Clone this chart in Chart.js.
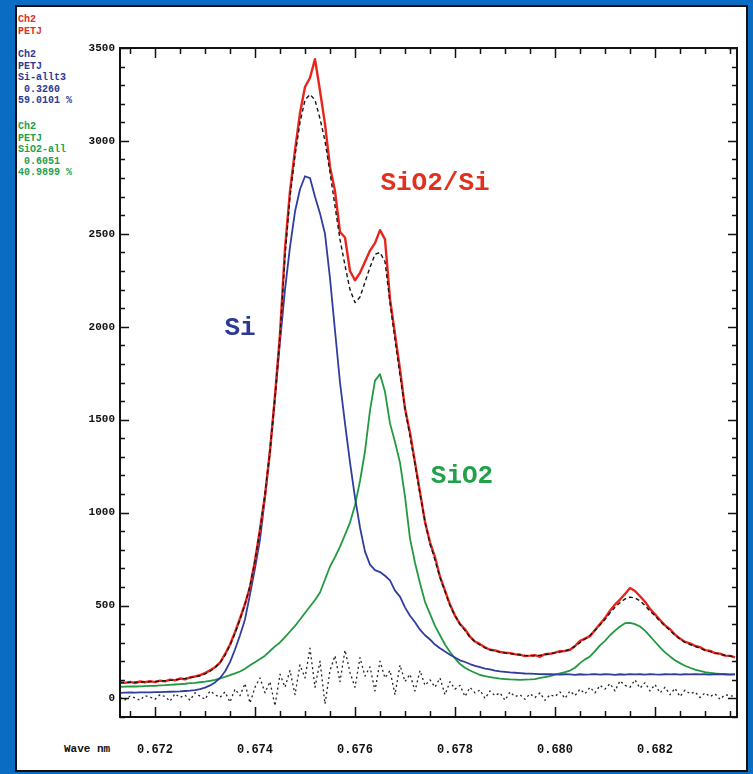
<!DOCTYPE html>
<html>
<head>
<meta charset="utf-8">
<title>SiO2/Si peak fit</title>
<script src="https://cdn.jsdelivr.net/npm/chart.js@4.4.1/dist/chart.umd.min.js"></script>
<style>
  html, body { margin: 0; padding: 0; }
  body { width: 753px; height: 774px; background: #0b6cc4; position: relative; overflow: hidden; }
  #panel { position: absolute; left: 15px; top: 5px; width: 733px; height: 767px; box-sizing: border-box; border: 2px solid #111; background: #fff; }
  #spectrum { position: absolute; left: 0; top: 0; }
  .tag { position: absolute; left: 18px; font: bold 10px "Liberation Mono", monospace; line-height: 11.5px; white-space: pre; }
  .red { color: #e0301e; top: 14px; }
  .blue { color: #2c3a96; top: 49px; }
  .green { color: #23a04a; top: 121px; }
  #waveLabel { position: absolute; left: 64px; top: 743px; font: bold 11px "Liberation Mono", monospace; color: #111; white-space: pre; }
</style>
</head>
<body>
<div id="panel"></div>
<div class="tag red">Ch2
PETJ</div>
<div class="tag blue">Ch2
PETJ
Si-allt3
 0.3260
59.0101 %</div>
<div class="tag green">Ch2
PETJ
SiO2-all
 0.6051
40.9899 %</div>
<div id="waveLabel">Wave nm</div>
<canvas id="spectrum" width="753" height="774"></canvas>
<script>
// wavelength grid (nm), one point per 0.0001
const wave = [
  0.6713, 0.6714, 0.6715, 0.6716, 0.6717, 0.6718, 0.6719, 0.6720, 0.6721, 0.6722,
  0.6723, 0.6724, 0.6725, 0.6726, 0.6727, 0.6728, 0.6729, 0.6730, 0.6731, 0.6732,
  0.6733, 0.6734, 0.6735, 0.6736, 0.6737, 0.6738, 0.6739, 0.6740, 0.6741, 0.6742,
  0.6743, 0.6744, 0.6745, 0.6746, 0.6747, 0.6748, 0.6749, 0.6750, 0.6751, 0.6752,
  0.6753, 0.6754, 0.6755, 0.6756, 0.6757, 0.6758, 0.6759, 0.6760, 0.6761, 0.6762,
  0.6763, 0.6764, 0.6765, 0.6766, 0.6767, 0.6768, 0.6769, 0.6770, 0.6771, 0.6772,
  0.6773, 0.6774, 0.6775, 0.6776, 0.6777, 0.6778, 0.6779, 0.6780, 0.6781, 0.6782,
  0.6783, 0.6784, 0.6785, 0.6786, 0.6787, 0.6788, 0.6789, 0.6790, 0.6791, 0.6792,
  0.6793, 0.6794, 0.6795, 0.6796, 0.6797, 0.6798, 0.6799, 0.6800, 0.6801, 0.6802,
  0.6803, 0.6804, 0.6805, 0.6806, 0.6807, 0.6808, 0.6809, 0.6810, 0.6811, 0.6812,
  0.6813, 0.6814, 0.6815, 0.6816, 0.6817, 0.6818, 0.6819, 0.6820, 0.6821, 0.6822,
  0.6823, 0.6824, 0.6825, 0.6826, 0.6827, 0.6828, 0.6829, 0.6830, 0.6831, 0.6832,
  0.6833, 0.6834, 0.6835, 0.6836
];

// measured SiO2/Si spectrum
const measured = [
  86, 84, 89, 83, 91, 87, 93, 88, 96, 92,
  101, 97, 107, 103, 113, 118, 125, 136, 151, 168,
  192, 238, 290, 356, 430, 508, 600, 742, 910, 1092,
  1330, 1630, 1960, 2420, 2730, 2950, 3150, 3290, 3340, 3440,
  3270, 3090, 2860, 2730, 2510, 2480, 2300, 2250, 2290, 2350,
  2410, 2450, 2520, 2470, 2150, 1960, 1770, 1560, 1430, 1270,
  1110, 950, 840, 760, 655, 580, 505, 445, 400, 372,
  332, 306, 292, 275, 262, 258, 250, 246, 244, 238,
  236, 228, 230, 233, 224, 238, 240, 246, 254, 255,
  262, 282, 310, 322, 335, 368, 400, 432, 472, 505,
  532, 562, 594, 578, 550, 520, 482, 452, 422, 393,
  372, 343, 322, 304, 296, 283, 276, 260, 256, 244,
  241, 230, 229, 221
];

// fitted sum
const fitted = [
  84, 85, 86, 87, 88, 89, 90, 91, 93, 95,
  97, 100, 104, 107, 111, 116, 122, 132, 146, 165,
  192, 232, 285, 350, 425, 505, 605, 740, 905, 1100,
  1330, 1620, 1950, 2380, 2700, 2920, 3100, 3220, 3250, 3220,
  3120, 3000, 2830, 2650, 2470, 2330, 2200, 2130, 2160, 2240,
  2320, 2390, 2400, 2350, 2130, 1930, 1740, 1560, 1410, 1260,
  1100, 950, 830, 745, 650, 575, 500, 445, 400, 365,
  330, 305, 288, 272, 262, 255, 249, 245, 241, 237,
  234, 231, 230, 230, 232, 236, 240, 245, 250, 256,
  264, 280, 300, 320, 340, 365, 395, 425, 460, 490,
  515, 535, 545, 540, 525, 500, 470, 445, 415, 390,
  365, 340, 318, 302, 290, 280, 270, 260, 252, 245,
  238, 232, 228, 224
];

// Si component
const siPeak = [
  30, 31, 32, 31, 32, 33, 33, 34, 34, 35,
  36, 37, 38, 40, 42, 45, 50, 58, 70, 86,
  110, 145, 195, 263, 340, 425, 560, 700, 855, 1080,
  1340, 1620, 1920, 2200, 2430, 2620, 2740, 2810, 2800, 2700,
  2610, 2500, 2260, 1980, 1700, 1480, 1270, 1080, 920, 790,
  720, 690, 680, 660, 635, 580, 548, 490, 445, 410,
  370, 340, 317, 290, 270, 252, 235, 220, 205, 196,
  185, 175, 168, 160, 156, 150, 146, 143, 140, 138,
  136, 134, 133, 132, 131, 130, 130, 129, 128, 130,
  129, 127, 130, 128, 129, 131, 128, 130, 129, 127,
  130, 128, 131, 129, 130, 128, 131, 129, 128, 130,
  129, 131, 128, 130, 129, 131, 129, 130, 128, 131,
  129, 130, 128, 131
];

// SiO2 component
const sio2Peak = [
  62, 63, 64, 64, 65, 66, 67, 68, 70, 71,
  73, 75, 77, 79, 82, 84, 87, 90, 95, 100,
  108, 116, 125, 135, 145, 160, 178, 195, 212, 230,
  255, 280, 301, 330, 360, 390, 425, 460, 495, 530,
  570, 640, 710, 760, 817, 880, 946, 1040, 1170, 1330,
  1550, 1710, 1745, 1650, 1480, 1380, 1269, 1086, 860, 730,
  620, 520, 455, 390, 340, 290, 250, 215, 185, 165,
  150, 138, 126, 120, 115, 110, 106, 104, 102, 101,
  100, 101, 102, 104, 110, 115, 120, 128, 135, 142,
  150, 165, 190, 210, 226, 255, 285, 310, 340, 365,
  387, 405, 407, 400, 387, 365, 335, 305, 275, 248,
  226, 205, 190, 176, 165, 155, 148, 142, 138, 134,
  132, 130, 129, 128
];

// fit residual
const residual = [
  5, -8, 12, 3, -10, 15, 8, -5, 20, 10,
  -15, 25, 5, 18, -10, 30, 12, -5, 40, 20,
  5, 35, -20, 50, 15, 80, -25, 60, 110, 30,
  90, -40, 130, 60, 150, 20, 180, 110, 270, 60,
  200, -30, 150, 230, 90, 260, 140, 60, 220, 120,
  170, 40, 200, 110, 150, 20, 180, 90, 130, 40,
  150, 70, 100, 60, 110, 20, 90, 50, 70, 10,
  60, 30, 45, 0, 40, 15, 30, -10, 35, 10,
  20, -5, 25, 5, 30, -10, 20, 10, 35, 0,
  40, 15, 50, 25, 60, 30, 70, 50, 80, 40,
  95, 70, 60, 100, 55, 85, 40, 75, 30, 60,
  20, 55, 10, 45, 25, 35, 5, 30, 10, 25,
  -5, 20, 15, 10
];

const xRange = { min: 0.6713, max: 0.68364, step: 0.002, minor: 0.0005 };
const yRange = { min: -100, max: 3500, minor: 100 };
const yLabels = [0, 500, 1000, 1500, 2000, 2500, 3000, 3500];

const tickFont = { family: '"Liberation Mono", monospace', weight: 'bold' };

function series(values) {
  return wave.map((w, i) => ({ x: w, y: values[i] }));
}

// box frame with inward ticks on all four sides
const frameTicks = {
  id: 'frameTicks',
  afterDatasetsDraw(chart) {
    const { ctx, chartArea: a, scales: { x, y } } = chart;
    ctx.save();
    ctx.strokeStyle = '#111';
    ctx.lineWidth = 1.5;
    ctx.beginPath();
    for (let k = Math.ceil(xRange.min / xRange.minor); k * xRange.minor <= xRange.max; k++) {
      const v = k * xRange.minor;
      const len = k % 4 === 0 ? 10 : 6;
      const px = Math.round(x.getPixelForValue(v)) + 0.5;
      ctx.moveTo(px, a.bottom); ctx.lineTo(px, a.bottom - len);
      ctx.moveTo(px, a.top); ctx.lineTo(px, a.top + len);
    }
    for (let v = yRange.min; v <= yRange.max; v += yRange.minor) {
      const len = v % 500 === 0 ? 9 : 5;
      const py = Math.round(y.getPixelForValue(v)) + 0.5;
      ctx.moveTo(a.left, py); ctx.lineTo(a.left + len, py);
      ctx.moveTo(a.right, py); ctx.lineTo(a.right - len, py);
    }
    ctx.stroke();
    ctx.lineWidth = 2;
    ctx.strokeRect(a.left, a.top, a.width, a.height);
    ctx.restore();
  }
};

// curve names written next to the peaks
const peakNames = {
  id: 'peakNames',
  afterDraw(chart) {
    const { ctx, scales: { x, y } } = chart;
    ctx.save();
    ctx.font = 'bold 26px "Liberation Mono", monospace';
    ctx.textAlign = 'center';
    ctx.textBaseline = 'middle';
    ctx.fillStyle = '#e0301e';
    ctx.fillText('SiO2/Si', x.getPixelForValue(0.6776), y.getPixelForValue(2773));
    ctx.fillStyle = '#2c3a96';
    ctx.fillText('Si', x.getPixelForValue(0.6737), y.getPixelForValue(1993));
    ctx.fillStyle = '#23a04a';
    ctx.fillText('SiO2', x.getPixelForValue(0.67814), y.getPixelForValue(1192));
    ctx.restore();
  }
};

new Chart(document.getElementById('spectrum'), {
  type: 'line',
  data: {
    datasets: [
      { label: 'fit', data: series(fitted), borderColor: '#151515', borderWidth: 1.4, borderDash: [4, 3], order: 0 },
      { label: 'SiO2/Si', data: series(measured), borderColor: '#e8251c', borderWidth: 2.4, order: 1 },
      { label: 'Si', data: series(siPeak), borderColor: '#2f3d9c', borderWidth: 1.8, order: 2 },
      { label: 'SiO2', data: series(sio2Peak), borderColor: '#23993f', borderWidth: 1.8, order: 3 },
      { label: 'residual', data: series(residual), borderColor: '#222', borderWidth: 1.3, borderDash: [2, 3], order: 4 }
    ]
  },
  options: {
    responsive: false,
    animation: false,
    elements: { point: { radius: 0 }, line: { tension: 0, borderJoinStyle: 'round' } },
    layout: { padding: { top: 48, right: 16, left: 0, bottom: 0 } },
    plugins: { legend: { display: false }, tooltip: { enabled: false } },
    scales: {
      x: {
        type: 'linear',
        min: xRange.min, max: xRange.max,
        grid: { display: false, drawTicks: false },
        border: { display: false },
        ticks: {
          stepSize: xRange.step, includeBounds: false, autoSkip: false, maxRotation: 0,
          padding: 26, color: '#111', font: { ...tickFont, size: 12 },
          callback: v => v.toFixed(3)
        },
        afterFit(scale) { scale.height = 57; }
      },
      y: {
        min: yRange.min, max: yRange.max,
        grid: { display: false, drawTicks: false },
        border: { display: false },
        afterBuildTicks(scale) { scale.ticks = yLabels.map(v => ({ value: v })); },
        ticks: {
          autoSkip: false, padding: 5,
          color: '#111', font: { ...tickFont, size: 11 },
          callback: v => String(v)
        },
        afterFit(scale) { scale.width = 120; }
      }
    }
  },
  plugins: [frameTicks, peakNames]
});
</script>
</body>
</html>
